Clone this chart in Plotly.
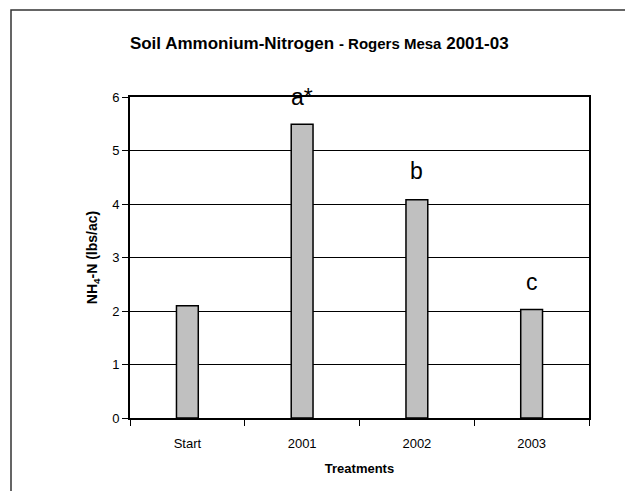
import plotly.graph_objects as go

categories = ["Start", "2001", "2002", "2003"]
values = [2.1, 5.49, 4.08, 2.03]
letters = ["", "a*", "b", "c"]
letter_y = [None, 6.0, 4.62, 2.54]
y_ticks = [0, 1, 2, 3, 4, 5, 6]

FONT = "Liberation Sans, Arial, sans-serif"

fig = go.Figure()
fig.add_trace(go.Bar(
    x=categories, y=values, width=0.19,
    marker=dict(color="#C0C0C0", line=dict(color="black", width=1.5)),
    showlegend=False, hoverinfo="x+y",
))

for i, (t, ly) in enumerate(zip(letters, letter_y)):
    if t:
        fig.add_annotation(x=i, y=ly, text=t, showarrow=False,
                           font=dict(family=FONT, size=23, color="black"),
                           xanchor="center", yanchor="middle")

# outer chart-area border (plot area spans 459 x 321 px)
fig.add_shape(type="rect", xref="paper", yref="paper",
              x0=-119/459, x1=(629-130)/459, y0=-(491-418+5)/321, y1=(418-10)/321,
              line=dict(color="#333333", width=1.5), fillcolor="rgba(0,0,0,0)",
              layer="below")

fig.update_layout(
    width=625, height=483,
    margin=dict(l=122, r=44, t=89, b=73),
    paper_bgcolor="white", plot_bgcolor="white",
    font=dict(family=FONT, color="black", size=13),
    title=dict(
        text="<b>Soil Ammonium-Nitrogen <span style='font-size:15px'>- Rogers Mesa</span> 2001-03</b>",
        x=0.498, xref="container", xanchor="center", y=1 - 35 / 483, yref="container",
        yanchor="middle",
        font=dict(family=FONT, size=17, color="black"),
    ),
    xaxis=dict(
        type="category", categoryorder="array", categoryarray=categories,
        range=[-0.5, len(categories) - 0.5],
        showline=True, linecolor="black", linewidth=2, mirror=True,
        ticks="outside", tickson="boundaries", ticklen=6, tickcolor="black", tickwidth=1,
        showgrid=False, tickfont=dict(size=13), tickangle=0, ticklabelstandoff=12,
        title=dict(text="<b>Treatments</b>", font=dict(size=13), standoff=14),
    ),
    yaxis=dict(
        range=[0, 6], tickvals=y_ticks, showline=True, linecolor="black", linewidth=2,
        mirror=True, ticks="outside", ticklen=6, tickcolor="black", tickwidth=1,
        showgrid=True, gridcolor="black", gridwidth=1, zeroline=False,
        tickfont=dict(size=13),
        title=dict(text="<b>NH<sub>4</sub>-N (lbs/ac)</b>", font=dict(size=14), standoff=11),
    ),
)

fig.write_html("out.html")
